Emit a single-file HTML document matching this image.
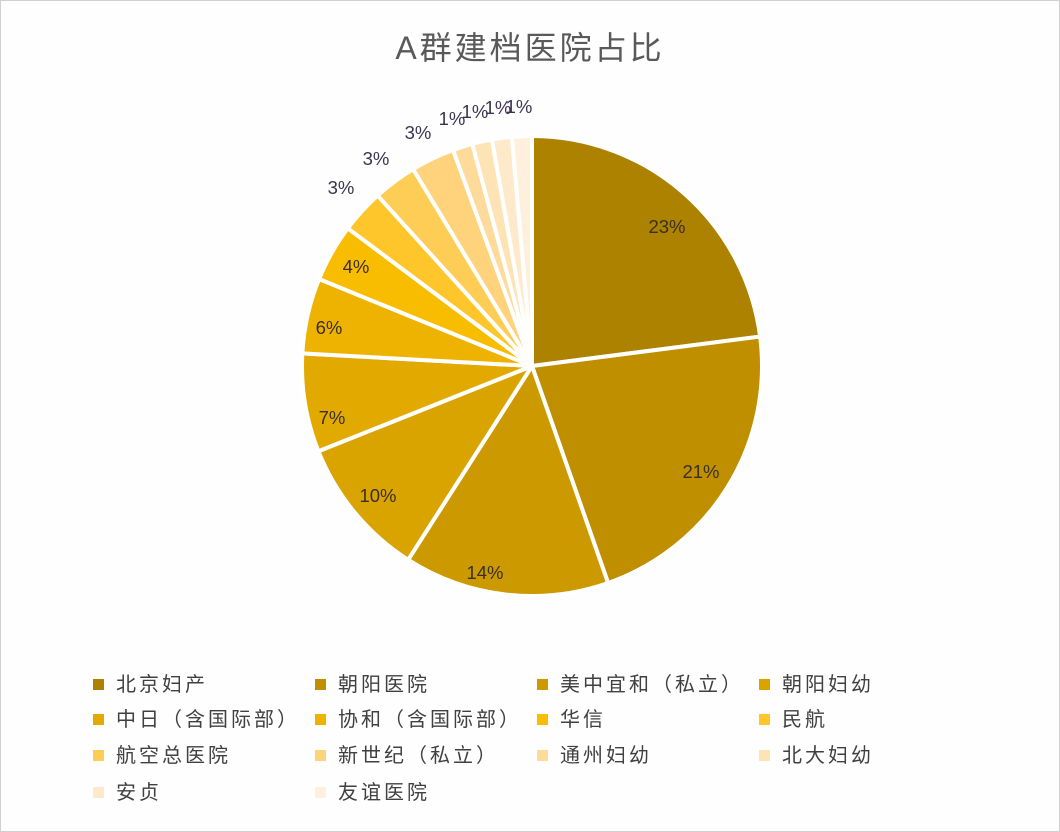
<!DOCTYPE html>
<html><head><meta charset="utf-8"><style>
html,body{margin:0;padding:0;background:#fff}
#c{position:relative;width:1058px;height:830px;border:1px solid #d0d0d0;background:#fefefe;overflow:hidden;font-family:"Liberation Sans","Noto Sans CJK SC",sans-serif}
.t{position:absolute;left:0;width:1058px;top:22px;text-align:center;font-size:32px;letter-spacing:3px;color:#595959}
.lg{position:absolute;font-size:20px;color:#404040;line-height:24px;white-space:nowrap;letter-spacing:3px}
.lg i{display:inline-block;width:11px;height:11px;margin-right:12px;vertical-align:1px}
</style></head><body><div id="c">
<div class="t">A群建档医院占比</div>
<svg id="s" width="1058" height="830" style="position:absolute;left:0;top:0"></svg>
<div id="L"></div>
</div>
<script>
var vals=[82.3,77.7,51.7,35.5,24.8,19.0,14.5,11,11,11,5,5,5,5];
var cols=["#ad8200","#bf8f00","#cc9a00","#d9a400","#e2aa00","#eeb300","#f9bd00","#fec62a","#fecd55","#fed37c","#fedb9a","#fee3b5","#ffe9cb","#fff0dd"];
var names=["北京妇产","朝阳医院","美中宜和（私立）","朝阳妇幼","中日（含国际部）","协和（含国际部）","华信","民航","航空总医院","新世纪（私立）","通州妇幼","北大妇幼","安贞","友谊医院"];
var tot=vals.reduce(function(a,b){return a+b},0);
var cx=531,cy=365,r=230,a=0,h="";
function pt(d,rr){var t=d*Math.PI/180;return [cx+rr*Math.sin(t),cy-rr*Math.cos(t)];}
for(var i=0;i<vals.length;i++){var d=vals[i]*360/tot;var p1=pt(a,r),p2=pt(a+d,r);
h+='<path d="M'+cx+','+cy+'L'+p1[0]+','+p1[1]+'A'+r+','+r+' 0 '+(d>180?1:0)+' 1 '+p2[0]+','+p2[1]+'Z" fill="'+cols[i]+'" stroke="#fff" stroke-width="4" stroke-linejoin="round"/>';a+=d;}
var labs=[["23%",666,232],["21%",700,477],["14%",484,578],["10%",377,501],["7%",331,423],["6%",328,333],["4%",355,272],["3%",340,193],["3%",375,164],["3%",417,138],["1%",451,124],["1%",474,117],["1%",497,113],["1%",518,112]];
labs.forEach(function(l){h+='<text x="'+l[1]+'" y="'+l[2]+'" text-anchor="middle" font-size="18.5" fill="'+(l[2]<200?'#3b3450':'#3a3020')+'" font-family="Liberation Sans,sans-serif">'+l[0]+'</text>';});
document.getElementById('s').innerHTML=h;
var xs=[92,314,536,758],ys=[672,707,743,780],lh="";
for(var i=0;i<14;i++){lh+='<div class="lg" style="left:'+xs[i%4]+'px;top:'+ys[Math.floor(i/4)]+'px"><i style="background:'+cols[i]+'"></i>'+names[i]+'</div>';}
document.getElementById('L').innerHTML=lh;
</script>
</body></html>
